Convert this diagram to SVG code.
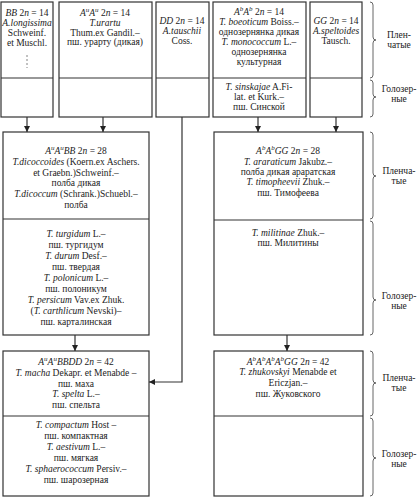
<svg xmlns="http://www.w3.org/2000/svg" width="419" height="497" viewBox="0 0 419 497">
<defs>
<style>
.t{font-family:"Liberation Serif","Times New Roman",serif;font-size:9.5px;text-anchor:middle;fill:#222}
.i{font-style:italic}
.s{font-size:7px;font-style:italic}
.box{fill:#fff;stroke:#333;stroke-width:1.2}
.ln{fill:none;stroke:#333;stroke-width:1.2}
.br{fill:none;stroke:#555;stroke-width:0.9}
</style>
<marker id="ah" viewBox="0 0 8 8" refX="8" refY="4" markerWidth="6" markerHeight="6" orient="auto" markerUnits="userSpaceOnUse">
<path d="M0,0 L8,4 L0,8 z" fill="#222"/>
</marker>
</defs>
<rect width="419" height="497" fill="#fff"/>

<g id="bb">
<rect class="box" x="1" y="2" width="52" height="115"/>
<line class="ln" x1="1" y1="78" x2="53" y2="78"/>
<text class="t" x="27" y="16"><tspan class="i">BB</tspan> 2<tspan class="i">n</tspan> = 14</text>
<text class="t i" x="27" y="26">A.longissima</text>
<text class="t" x="27" y="36">Schweinf.</text>
<text class="t" x="27" y="46">et Muschl.</text>
<line x1="27" y1="55" x2="27" y2="68" stroke="#666" stroke-width="0.8" stroke-dasharray="2,2"/>
</g>

<g id="aa_u">
<rect class="box" x="59" y="2" width="93" height="115"/>
<line class="ln" x1="59" y1="78" x2="152" y2="78"/>
<text class="t" x="105" y="16"><tspan class="i">A</tspan><tspan class="s" dy="-4">u</tspan><tspan class="i" dy="4">A</tspan><tspan class="s" dy="-4">u</tspan><tspan dy="4"> 2</tspan><tspan class="i">n</tspan> = 14</text>
<text class="t i" x="105" y="26">T.urartu</text>
<text class="t" x="105" y="36">Thum.ex Gandil.–</text>
<text class="t" x="105" y="45">пш. урарту (дикая)</text>
</g>

<g id="dd">
<rect class="box" x="156" y="2" width="53" height="115"/>
<line class="ln" x1="156" y1="78" x2="209" y2="78"/>
<text class="t" x="182" y="24"><tspan class="i">DD</tspan> 2<tspan class="i">n</tspan> = 14</text>
<text class="t i" x="182" y="34">A.tauschii</text>
<text class="t" x="182" y="44">Coss.</text>
</g>

<g id="aa_b">
<rect class="box" x="213" y="2" width="93" height="115"/>
<line class="ln" x1="213" y1="78" x2="306" y2="78"/>
<text class="t" x="259" y="15"><tspan class="i">A</tspan><tspan class="s" dy="-4">b</tspan><tspan class="i" dy="4">A</tspan><tspan class="s" dy="-4">b</tspan><tspan dy="4"> 2</tspan><tspan class="i">n</tspan> = 14</text>
<text class="t" x="259" y="25"><tspan class="i">T. boeoticum</tspan> Boiss.–</text>
<text class="t" x="259" y="35">однозернянка дикая</text>
<text class="t" x="259" y="45"><tspan class="i">T. monococcum</tspan> L.–</text>
<text class="t" x="259" y="55">однозернянка</text>
<text class="t" x="259" y="65">культурная</text>
<text class="t" x="259" y="90"><tspan class="i">T. sinskajae</tspan> A.Fi-</text>
<text class="t" x="259" y="100">lat. et Kurk.–</text>
<text class="t" x="259" y="110">пш. Синской</text>
</g>

<g id="gg">
<rect class="box" x="310" y="2" width="52" height="115"/>
<line class="ln" x1="310" y1="78" x2="362" y2="78"/>
<text class="t" x="336" y="24"><tspan class="i">GG</tspan> 2<tspan class="i">n</tspan> = 14</text>
<text class="t i" x="336" y="34">A.speltoides</text>
<text class="t" x="336" y="44">Tausch.</text>
</g>

<g id="aabb">
<rect class="box" x="3" y="132" width="146" height="203"/>
<line class="ln" x1="3" y1="219" x2="149" y2="219"/>
<text class="t" x="76" y="154"><tspan class="i">A</tspan><tspan class="s" dy="-4">u</tspan><tspan class="i" dy="4">A</tspan><tspan class="s" dy="-4">u</tspan><tspan class="i" dy="4">BB</tspan> 2<tspan class="i">n</tspan> = 28</text>
<text class="t" x="76" y="165"><tspan class="i">T.dicoccoides</tspan> (Koern.ex Aschers.</text>
<text class="t" x="76" y="176">et Graebn.)Schweinf.–</text>
<text class="t" x="76" y="186">полба дикая</text>
<text class="t" x="76" y="197"><tspan class="i">T.dicoccum</tspan> (Schrank.)Schuebl.–</text>
<text class="t" x="76" y="208">полба</text>
<text class="t" x="76" y="237"><tspan class="i">T. turgidum</tspan> L.–</text>
<text class="t" x="76" y="248">пш. тургидум</text>
<text class="t" x="76" y="259"><tspan class="i">T. durum</tspan> Desf.–</text>
<text class="t" x="76" y="270">пш. твердая</text>
<text class="t" x="76" y="281"><tspan class="i">T. polonicum</tspan> L.–</text>
<text class="t" x="76" y="292">пш. полоникум</text>
<text class="t" x="76" y="303"><tspan class="i">T. persicum</tspan> Vav.ex Zhuk.</text>
<text class="t" x="76" y="314">(<tspan class="i">T. carthlicum</tspan> Nevski)–</text>
<text class="t" x="76" y="325">пш. карталинская</text>
</g>

<g id="aagg">
<rect class="box" x="214" y="132" width="149" height="203"/>
<line class="ln" x1="214" y1="220" x2="363" y2="220"/>
<text class="t" x="288" y="154"><tspan class="i">A</tspan><tspan class="s" dy="-4">b</tspan><tspan class="i" dy="4">A</tspan><tspan class="s" dy="-4">b</tspan><tspan class="i" dy="4">GG</tspan> 2<tspan class="i">n</tspan> = 28</text>
<text class="t" x="288" y="165"><tspan class="i">T. araraticum</tspan> Jakubz.–</text>
<text class="t" x="288" y="175">полба дикая араратская</text>
<text class="t" x="288" y="185"><tspan class="i">T. timopheevii</tspan> Zhuk.–</text>
<text class="t" x="288" y="196">пш. Тимофеева</text>
<text class="t" x="288" y="236"><tspan class="i">T. militinae</tspan> Zhuk.–</text>
<text class="t" x="288" y="246">пш. Милитины</text>
</g>

<g id="aabbdd">
<rect class="box" x="3" y="351" width="146" height="145"/>
<line class="ln" x1="3" y1="416" x2="149" y2="416"/>
<text class="t" x="76" y="365"><tspan class="i">A</tspan><tspan class="s" dy="-4">u</tspan><tspan class="i" dy="4">A</tspan><tspan class="s" dy="-4">u</tspan><tspan class="i" dy="4">BBDD</tspan> 2<tspan class="i">n</tspan> = 42</text>
<text class="t" x="76" y="376"><tspan class="i">T. macha</tspan> Dekapr. et Menabde –</text>
<text class="t" x="76" y="387">пш. маха</text>
<text class="t" x="76" y="397"><tspan class="i">T. spelta</tspan> L.–</text>
<text class="t" x="76" y="408">пш. спельта</text>
<text class="t" x="76" y="428"><tspan class="i">T. compactum</tspan> Host –</text>
<text class="t" x="76" y="439">пш. компактная</text>
<text class="t" x="76" y="450"><tspan class="i">T. aestivum</tspan> L.–</text>
<text class="t" x="76" y="461">пш. мягкая</text>
<text class="t" x="76" y="472"><tspan class="i">T. sphaerococcum</tspan> Persiv.–</text>
<text class="t" x="76" y="483">пш. шарозерная</text>
</g>

<g id="aaaagg">
<rect class="box" x="214" y="351" width="149" height="145"/>
<line class="ln" x1="214" y1="416" x2="363" y2="416"/>
<text class="t" x="288" y="365"><tspan class="i">A</tspan><tspan class="s" dy="-4">b</tspan><tspan class="i" dy="4">A</tspan><tspan class="s" dy="-4">b</tspan><tspan class="i" dy="4">A</tspan><tspan class="s" dy="-4">b</tspan><tspan class="i" dy="4">A</tspan><tspan class="s" dy="-4">b</tspan><tspan class="i" dy="4">GG</tspan> 2<tspan class="i">n</tspan> = 42</text>
<text class="t" x="288" y="375"><tspan class="i">T. zhukovskyi</tspan> Menabde et</text>
<text class="t" x="288" y="386">Ericzjan.–</text>
<text class="t" x="288" y="397">пш. Жуковского</text>
</g>

<g id="connectors">
<line class="ln" x1="27" y1="117" x2="27" y2="132" marker-end="url(#ah)"/>
<line class="ln" x1="103" y1="117" x2="103" y2="132" marker-end="url(#ah)"/>
<polyline class="ln" points="182,117 182,382 149,382" marker-end="url(#ah)"/>
<line class="ln" x1="258" y1="117" x2="258" y2="132" marker-end="url(#ah)"/>
<line class="ln" x1="336" y1="117" x2="336" y2="132" marker-end="url(#ah)"/>
<line class="ln" x1="75" y1="335" x2="75" y2="351" marker-end="url(#ah)"/>
<line class="ln" x1="287" y1="335" x2="287" y2="351" marker-end="url(#ah)"/>
</g>

<g id="braces">
<path class="br" d="M370,2 q3,0 3,3 L373,37 q0,3 3,3 q-3,0 -3,3 L373,75 q0,3 -3,3"/>
<path class="br" d="M370,80 q3,0 3,3 L373,94 q0,3 3,3 q-3,0 -3,3 L373,114 q0,3 -3,3"/>
<path class="br" d="M370,132 q3,0 3,3 L373,173 q0,3 3,3 q-3,0 -3,3 L373,216 q0,3 -3,3"/>
<path class="br" d="M370,221 q3,0 3,3 L373,297 q0,3 3,3 q-3,0 -3,3 L373,332 q0,3 -3,3"/>
<path class="br" d="M370,351 q3,0 3,3 L373,380 q0,3 3,3 q-3,0 -3,3 L373,413 q0,3 -3,3"/>
<path class="br" d="M370,418 q3,0 3,3 L373,455 q0,3 3,3 q-3,0 -3,3 L373,493 q0,3 -3,3"/>
<text class="t" x="399" y="38">Плен-</text>
<text class="t" x="399" y="48">чатые</text>
<text class="t" x="399" y="92">Голозер-</text>
<text class="t" x="399" y="102">ные</text>
<text class="t" x="399" y="174">Пленча-</text>
<text class="t" x="399" y="184">тые</text>
<text class="t" x="399" y="299">Голозер-</text>
<text class="t" x="399" y="309">ные</text>
<text class="t" x="399" y="381">Пленча-</text>
<text class="t" x="399" y="391">тые</text>
<text class="t" x="399" y="457">Голозер-</text>
<text class="t" x="399" y="467">ные</text>
</g>
</svg>
